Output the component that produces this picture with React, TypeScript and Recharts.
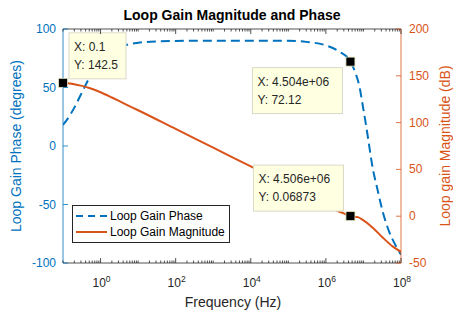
import React from 'react';
import {
  ComposedChart,
  Line,
  XAxis,
  YAxis,
  ReferenceLine,
  ReferenceDot,
  Legend,
  Customized,
} from 'recharts';

const BLUE = '#0072BD';
const ORANGE = '#D95319';
const AXIS = '#262626';
const FONT = '"Liberation Sans", Arial, Helvetica, sans-serif';

const seriesNames = ['Loop Gain Phase', 'Loop Gain Magnitude'];

// Loop gain phase (degrees)
const phaseFreq = [
  0.1, 0.15, 0.2, 0.3, 0.5, 0.7, 1, 2, 3, 5, 10, 30, 100, 1e3, 1e4, 1e5, 3e5, 1e6, 2.2e6,
  4.504e6, 6.2e6, 7.8e6, 1e7, 1.17e7, 1.38e7, 1.7e7, 2.4e7, 3.25e7, 4.8e7, 7.2e7, 1e8,
];
const phaseDeg = [
  18, 25.8, 32.8, 44, 58.2, 66.1, 72.8, 81.2, 84.1, 86.5, 88.2, 89.4, 89.8, 90, 90, 90, 89, 86, 81,
  72.12, 62, 51, 31, 18, 3, -16, -38, -56, -73, -85, -93,
];

// Loop gain magnitude (dB)
const magFreq = [
  0.1, 0.2, 0.3, 0.5, 1, 2, 3, 5, 10, 100, 1e3, 1e4, 1e5, 1e6, 1.5e6, 3e6, 4.506e6, 7.1e6,
  9.6e6, 1.8e7, 3.3e7, 6.1e7, 1e8,
];
const magDb = [
  142.5, 141, 139.5, 137, 132.4, 126.8, 123.4, 119, 113.2, 93.2, 73.2, 53.2, 33.2, 13, 8, 3,
  0.06873, -1, -4, -12.5, -23, -32.5, -38,
];

const phaseTicks = [-100, -50, 0, 50, 100];
const magTicks = [-50, 0, 50, 100, 150, 200];
const freqMajor = [1, 1e2, 1e4, 1e6, 1e8];

// data tips
const tipX = [0.1, 4.504e6, 4.506e6];
const tipY = [142.5, 72.12, 0.06873];
const tipAxis = ['right', 'left', 'right'];
const tipXText = ['0.1', '4.504e+06', '4.506e+06'];
const tipYText = ['142.5', '72.12', '0.06873'];

// box placement relative to marker (dx, dy, width)
const tipBox = [
  { dx: 6, dy: -50, w: 57 },
  { dx: -98, dy: 6, w: 90 },
  { dx: -97, dy: -51, w: 90 },
];

const W = 453;
const H = 316;
const TOP = 29;
const PLOT_H = 234;

const freqTicks: number[] = [];
for (let k = -1; k < 8; k++) {
  for (let m = 1; m < 10; m++) freqTicks.push(Number((m * 10 ** k).toPrecision(3)));
}
freqTicks.push(1e8);

const phaseData = phaseFreq.map((f, i) => ({ f, p: phaseDeg[i] }));
const magData = magFreq.map((f, i) => ({ f, m: magDb[i] }));

const FreqTick = (props: any) => {
  const { x, y, payload } = props;
  const v = payload.value;
  const major = freqMajor.includes(v);
  const len = major ? 5 : 2.5;
  const exp = Math.round(Math.log10(v));
  return (
    <g>
      <line x1={x} x2={x} y1={y} y2={y - len} stroke={AXIS} strokeWidth={0.8} />
      <line x1={x} x2={x} y1={y - PLOT_H} y2={y - PLOT_H + len} stroke={AXIS} strokeWidth={0.8} />
      {major && (
        <text x={x + 1} y={y + 24} textAnchor="middle" fill={AXIS} fontSize={12} fontFamily={FONT}>
          <tspan>10</tspan>
          <tspan dy={-5} fontSize={8.5}>{exp}</tspan>
        </text>
      )}
    </g>
  );
};

const PhaseTick = (props: any) => {
  const { x, y, payload } = props;
  return (
    <g>
      <line x1={x} x2={x + 5} y1={y} y2={y} stroke={BLUE} strokeWidth={0.8} />
      <text x={x - 7} y={y + 4} textAnchor="end" fill={BLUE} fontSize={12} fontFamily={FONT}>
        {payload.value}
      </text>
    </g>
  );
};

const MagTick = (props: any) => {
  const { x, y, payload } = props;
  return (
    <g>
      <line x1={x} x2={x - 5} y1={y} y2={y} stroke={ORANGE} strokeWidth={0.8} />
      <text x={x + 8} y={y + 4} textAnchor="start" fill={ORANGE} fontSize={12} fontFamily={FONT}>
        {payload.value}
      </text>
    </g>
  );
};

const makeTip = (i: number) => (props: any) => {
  const { cx, cy } = props;
  const b = tipBox[i];
  const bx = cx + b.dx;
  const by = cy + b.dy;
  return (
    <g>
      <rect x={bx} y={by} width={b.w} height={46} fill="#FFFFE1" stroke="#D9D9C8" strokeWidth={1} />
      <text x={bx + 5} y={by + 18} fill={AXIS} fontSize={12} fontFamily={FONT}>
        {`X: ${tipXText[i]}`}
      </text>
      <text x={bx + 5} y={by + 36} fill={AXIS} fontSize={12} fontFamily={FONT}>
        {`Y: ${tipYText[i]}`}
      </text>
      <rect x={cx - 4.5} y={cy - 4.5} width={9} height={9} fill="#000" stroke="#E8E8C0" strokeWidth={0.8} />
    </g>
  );
};

const LegendBox = (props: any) => {
  const items = [...(props.payload || [])].sort(
    (a: any, b: any) => seriesNames.indexOf(a.value) - seriesNames.indexOf(b.value)
  );
  return (
    <div
      style={{
        border: `1px solid ${AXIS}`,
        background: '#fff',
        padding: '2px 4px 2px 3px',
        fontFamily: FONT,
        fontSize: 12,
        lineHeight: '16px',
        color: '#000',
        whiteSpace: 'nowrap',
      }}
    >
      {items.map((entry: any) => (
        <div key={entry.value} style={{ display: 'flex', alignItems: 'center', height: 16 }}>
          <svg width={31} height={16} style={{ marginRight: 3 }}>
            <line
              x1={0}
              x2={31}
              y1={8}
              y2={8}
              stroke={entry.color}
              strokeWidth={2}
              strokeDasharray={entry.value === seriesNames[0] ? '7 5' : undefined}
            />
          </svg>
          <span>{entry.value}</span>
        </div>
      ))}
    </div>
  );
};

const Labels = () => (
  <g fontFamily={FONT}>
    <text x={232} y={20} textAnchor="middle" fontWeight="bold" fontSize={14} fill="#000">
      Loop Gain Magnitude and Phase
    </text>
    <text x={233} y={307} textAnchor="middle" fontSize={14} fill={AXIS}>
      Frequency (Hz)
    </text>
    <text x={21} y={146} textAnchor="middle" fontSize={14} fill={BLUE} transform="rotate(-90 21 146)">
      Loop Gain Phase (degrees)
    </text>
    <text x={450} y={146} textAnchor="middle" fontSize={14} fill={ORANGE} transform="rotate(-90 450 146)">
      Loop gain Magnitude (dB)
    </text>
  </g>
);

export default function App() {
  return (
    <div style={{ position: 'absolute', left: 0, top: 0, width: W, height: H, background: '#fff' }}>
      <ComposedChart width={W} height={H} margin={{ top: TOP, right: 0, bottom: 0, left: 0 }}>
        <XAxis
          dataKey="f"
          type="number"
          scale="log"
          domain={[0.1, 1e8]}
          allowDataOverflow
          ticks={freqTicks}
          interval={0}
          height={53}
          tickSize={0}
          tickMargin={0}
          tickLine={false}
          axisLine={{ stroke: AXIS, strokeWidth: 0.8 }}
          tick={<FreqTick />}
        />
        <YAxis
          yAxisId="left"
          orientation="left"
          type="number"
          domain={[-100, 100]}
          allowDataOverflow
          ticks={phaseTicks}
          interval={0}
          width={63}
          tickSize={0}
          tickMargin={0}
          tickLine={false}
          axisLine={{ stroke: BLUE, strokeWidth: 0.8 }}
          tick={<PhaseTick />}
        />
        <YAxis
          yAxisId="right"
          orientation="right"
          type="number"
          domain={[-50, 200]}
          allowDataOverflow
          ticks={magTicks}
          interval={0}
          width={52}
          tickSize={0}
          tickMargin={0}
          tickLine={false}
          axisLine={{ stroke: ORANGE, strokeWidth: 0.8 }}
          tick={<MagTick />}
        />
        <ReferenceLine yAxisId="left" y={100} stroke={AXIS} strokeWidth={0.8} />
        <Line
          data={phaseData}
          yAxisId="left"
          dataKey="p"
          name={seriesNames[0]}
          type="monotone"
          stroke={BLUE}
          strokeWidth={2}
          strokeDasharray="9 5"
          dot={false}
          isAnimationActive={false}
        />
        <Line
          data={magData}
          yAxisId="right"
          dataKey="m"
          name={seriesNames[1]}
          type="monotone"
          stroke={ORANGE}
          strokeWidth={2}
          dot={false}
          isAnimationActive={false}
        />
        {tipX.map((x, i) => (
          <ReferenceDot
            key={i}
            x={x}
            y={tipY[i]}
            yAxisId={tipAxis[i]}
            ifOverflow="visible"
            shape={makeTip(i)}
          />
        ))}
        <Legend
          layout="vertical"
          align="center"
          verticalAlign="middle"
          wrapperStyle={{ left: 72, top: 205, width: 'auto', height: 'auto' }}
          content={<LegendBox />}
        />
        <Customized component={Labels} />
      </ComposedChart>
    </div>
  );
}
